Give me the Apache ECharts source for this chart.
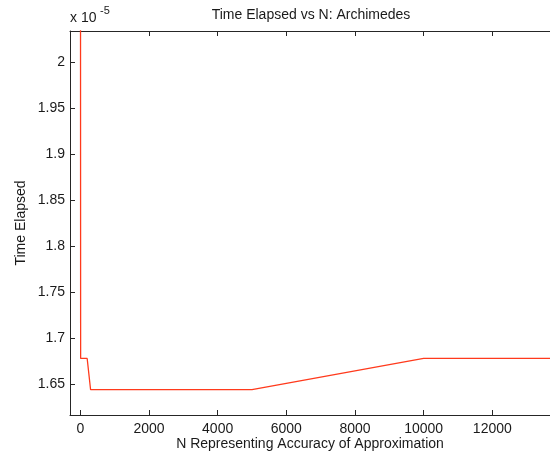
<!DOCTYPE html>
<html>
<head>
<meta charset="utf-8">
<script src="https://cdn.jsdelivr.net/npm/echarts@6/dist/echarts.min.js"></script>
<style>html,body{margin:0;padding:0;background:#fff}#c{width:550px;height:458px}</style>
</head>
<body>
<div id="c"></div>
<script>
// Data (time values in units of 1e-5 seconds)
const nValues = [1, 10, 100, 200, 300, 500, 1000, 5000, 10000, 50000];
const timeValues = [2.6, 1.6778, 1.6778, 1.6778, 1.6438, 1.6438, 1.6438, 1.6438, 1.6778, 1.6778];
const xTicks = [0, 2000, 4000, 6000, 8000, 10000, 12000];
const yTicks = [1.65, 1.7, 1.75, 1.8, 1.85, 1.9, 1.95, 2];

const chart = echarts.init(document.getElementById('c'));
const font = 'Liberation Sans, Arial, sans-serif';
const axisCol = '#262626';
const txtCol = '#1a1a1a';
const xMin = -300, xMax = 13680, yMin = 1.6163, yMax = 2.034;

chart.setOption({
  animation: false,
  backgroundColor: '#fff',
  grid: {left: 70, top: 31, right: 0, bottom: 43, containLabel: false},
  xAxis: [{
    type: 'value', min: xMin, max: xMax, position: 'bottom',
    axisLine: {show: true, onZero: false, lineStyle: {color: axisCol, width: 1}},
    axisTick: {show: true, inside: true, length: 5, customValues: xTicks, lineStyle: {color: axisCol}},
    axisLabel: {show: true, customValues: xTicks, color: txtCol, fontFamily: font, fontSize: 14, margin: 7,
      formatter: v => String(v)},
    splitLine: {show: false}
  }, {
    type: 'value', min: xMin, max: xMax, position: 'top',
    axisLine: {show: true, onZero: false, lineStyle: {color: axisCol, width: 1}},
    axisTick: {show: true, inside: true, length: 5, customValues: xTicks, lineStyle: {color: axisCol}},
    axisLabel: {show: false},
    splitLine: {show: false}
  }],
  yAxis: [{
    type: 'value', min: yMin, max: yMax, position: 'left',
    axisLine: {show: true, onZero: false, lineStyle: {color: axisCol, width: 1}},
    axisTick: {show: true, inside: true, length: 5, customValues: yTicks, lineStyle: {color: axisCol}},
    axisLabel: {show: true, customValues: yTicks, color: txtCol, fontFamily: font, fontSize: 14, margin: 5,
      formatter: v => String(Math.round(v * 100) / 100)},
    splitLine: {show: false}
  }],
  series: [{
    type: 'line', xAxisIndex: 0, yAxisIndex: 0,
    data: nValues.map((n, i) => [n, timeValues[i]]),
    showSymbol: false, symbol: 'none', clip: true,
    lineStyle: {color: '#ff3a1c', width: 1.3},
    itemStyle: {color: '#ff3a1c'}
  }],
  graphic: [
    {type: 'text', style: {text: 'Time Elapsed vs N: Archimedes', x: 311, y: 15, align: 'center', verticalAlign: 'middle', font: '14px ' + font, fill: txtCol}},
    {type: 'text', style: {text: 'x 10', x: 70, y: 25, align: 'left', verticalAlign: 'bottom', font: '14px ' + font, fill: txtCol}},
    {type: 'text', style: {text: '-5', x: 100, y: 16, align: 'left', verticalAlign: 'bottom', font: '11px ' + font, fill: txtCol}},
    {type: 'text', rotation: Math.PI / 2, x: 21, y: 223, style: {text: 'Time Elapsed', x: 0, y: 0, align: 'center', verticalAlign: 'middle', font: '14px ' + font, fill: txtCol}},
    {type: 'text', style: {text: 'N Representing Accuracy of Approximation', x: 310, y: 444, align: 'center', verticalAlign: 'middle', font: '14px ' + font, fill: txtCol}}
  ]
});
</script>
</body>
</html>
